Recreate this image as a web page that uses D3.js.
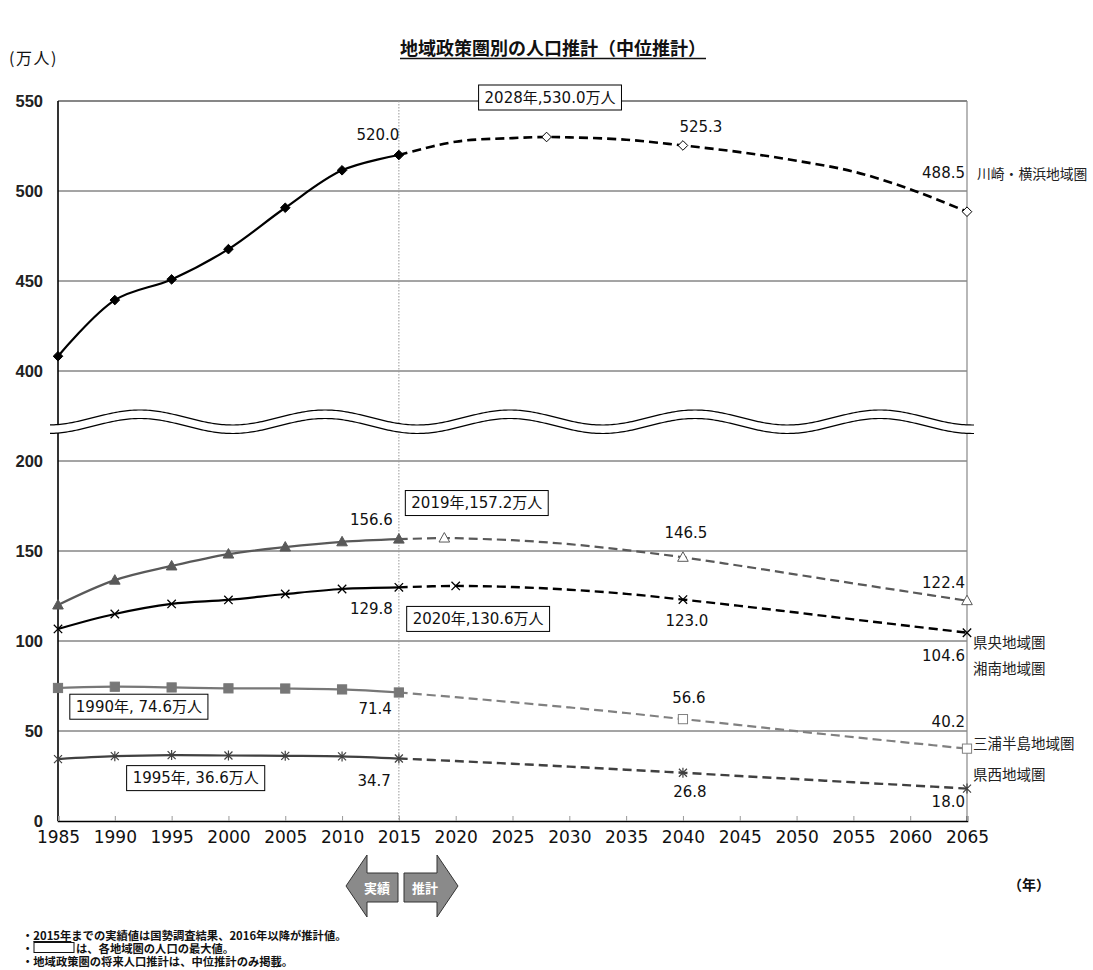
<!DOCTYPE html>
<html><head><meta charset="utf-8">
<script src="https://cdn.jsdelivr.net/npm/d3@7"></script>
<style>
body{margin:0;background:#fff;}
svg{display:block;}
</style></head><body>
<svg id="chart" width="1093" height="970"></svg>
<script>
// ---- data (万人) ----
const actualYears = [1985, 1990, 1995, 2000, 2005, 2010, 2015];
const kawasakiActual = [408.2, 439.4, 450.9, 467.7, 490.7, 511.5, 520.0];
const shonanActual   = [120.0, 133.8, 141.7, 148.3, 152.2, 155.1, 156.6];
const kenouActual    = [106.7, 115.0, 120.6, 122.8, 126.1, 128.9, 129.8];
const miuraActual    = [73.9, 74.6, 74.2, 73.7, 73.6, 73.1, 71.4];
const kenseiActual   = [34.4, 36.0, 36.6, 36.4, 36.2, 35.9, 34.7];

const kawasakiProjYears = [2015, 2020, 2025, 2028, 2030, 2035, 2040, 2045, 2050, 2055, 2060, 2065];
const kawasakiProj      = [520.0, 527.4, 529.4, 530.0, 529.8, 528.5, 525.3, 521.6, 516.8, 510.8, 501.0, 488.5];
const shonanProjYears   = [2015, 2019, 2020, 2025, 2030, 2035, 2040, 2045, 2050, 2055, 2060, 2065];
const shonanProj        = [156.6, 157.2, 157.1, 156.0, 153.8, 150.5, 146.5, 141.8, 136.9, 132.0, 127.2, 122.4];
const kenouProjYears    = [2015, 2020, 2025, 2030, 2035, 2040, 2045, 2050, 2055, 2060, 2065];
const kenouProj         = [129.8, 130.6, 130.0, 128.5, 126.2, 123.0, 119.5, 115.8, 112.0, 108.3, 104.6];
const miuraProjYears    = [2015, 2020, 2025, 2030, 2035, 2040, 2045, 2050, 2055, 2060, 2065];
const miuraProj         = [71.4, 68.8, 66.0, 63.1, 60.0, 56.6, 53.3, 49.9, 46.6, 43.4, 40.2];
const kenseiProjYears   = [2015, 2020, 2025, 2030, 2035, 2040, 2045, 2050, 2055, 2060, 2065];
const kenseiProj        = [34.7, 33.3, 31.8, 30.2, 28.5, 26.8, 25.0, 23.3, 21.5, 19.8, 18.0];

const seriesNames = ["川崎・横浜地域圏", "湘南地域圏", "県央地域圏", "三浦半島地域圏", "県西地域圏"];
const peakYears   = [2028, 2019, 2020, 1990, 1995];
const xTickYears  = d3.range(1985, 2066, 5);
const yTicksLow   = [0, 50, 100, 150, 200];
const yTicksHigh  = [400, 450, 500, 550];

const title = "地域政策圏別の人口推計（中位推計）";
const notes = ["2015年までの実績値は国勢調査結果、2016年以降が推計値。", "は、各地域圏の人口の最大値。", "地域政策圏の将来人口推計は、中位推計のみ掲載。"];

// ---- scales: broken value axis (0–200 below, 400–550 above) ----
const x = d3.scaleLinear().domain([1985, 2065]).range([58, 967]);
const yLow = d3.scaleLinear().domain([0, 200]).range([821, 461]);
const yHigh = d3.scaleLinear().domain([400, 550]).range([371, 101]);
const y = v => v >= 300 ? yHigh(v) : yLow(v);

const svg = d3.select("#chart");
const latin = "'DejaVu Sans', Verdana, sans-serif";
const jp = "'DejaVu Sans', 'Noto Sans CJK JP', sans-serif";
const jpOnly = "'Noto Sans CJK JP', sans-serif";

// gridlines
const grid = svg.append("g");
[50, 100, 150, 200].forEach(v => grid.append("line")
  .attr("x1", x(1985)).attr("x2", x(2065)).attr("y1", yLow(v)).attr("y2", yLow(v))
  .attr("stroke", "#4a4a4a").attr("stroke-width", 1));
[400, 450, 500].forEach(v => grid.append("line")
  .attr("x1", x(1985)).attr("x2", x(2065)).attr("y1", yHigh(v)).attr("y2", yHigh(v))
  .attr("stroke", "#4a4a4a").attr("stroke-width", 1));
// frame: top and right
grid.append("line").attr("x1", x(1985)).attr("x2", x(2065)).attr("y1", yHigh(550)).attr("y2", yHigh(550))
  .attr("stroke", "#111").attr("stroke-width", 1.2);
grid.append("line").attr("x1", x(2065)).attr("x2", x(2065)).attr("y1", yHigh(550)).attr("y2", yLow(0))
  .attr("stroke", "#888").attr("stroke-width", 1.2);
// actual / projected divider
grid.append("line").attr("x1", x(2015)).attr("x2", x(2015)).attr("y1", yHigh(550)).attr("y2", yLow(0))
  .attr("stroke", "#999").attr("stroke-width", 1).attr("stroke-dasharray", "1.5,1.5");

// axes
const axisFont = "'Liberation Sans', Arial, sans-serif";
const yAxisLow = svg.append("g").attr("transform", `translate(${x(1985)},0)`)
  .call(d3.axisLeft(yLow).tickValues(yTicksLow).tickSize(0).tickPadding(15));
const yAxisHigh = svg.append("g").attr("transform", `translate(${x(1985)},0)`)
  .call(d3.axisLeft(yHigh).tickValues(yTicksHigh).tickSize(0).tickPadding(15));
[yAxisLow, yAxisHigh].forEach(g => {
  g.select(".domain").remove();
  g.selectAll("text").attr("font-family", axisFont).attr("font-size", 16.5)
    .attr("font-weight", "bold").attr("fill", "#222");
});
svg.append("line").attr("x1", x(1985)).attr("x2", x(1985)).attr("y1", yHigh(550)).attr("y2", yLow(0))
  .attr("stroke", "#000").attr("stroke-width", 1.6);

const xAxis = svg.append("g").attr("transform", `translate(0,${yLow(0)})`)
  .call(d3.axisBottom(x).tickValues(xTickYears).tickFormat(d3.format("d")).tickSize(-5).tickPadding(10));
xAxis.select(".domain").attr("stroke", "#000").attr("stroke-width", 1.6);
xAxis.selectAll(".tick line").attr("stroke", "#999");
xAxis.selectAll("text").attr("font-family", latin).attr("font-size", 17).attr("fill", "#111");

// ---- axis break (double wave) ----
const wavePeriod = 185, wavePhase = 140, waveAmp = 7.5;
const waveTop = xx => 417.5 - waveAmp * Math.cos(2 * Math.PI * (xx - wavePhase) / wavePeriod);
const wx = d3.range(50, 976, 2);
const topPts = wx.map(xx => [xx, waveTop(xx)]);
const botPts = wx.map(xx => [xx, waveTop(xx) + 8.5]);
svg.append("path")
  .attr("d", d3.line()(topPts.concat(botPts.slice().reverse())) + "Z")
  .attr("fill", "#fff").attr("stroke", "none");
[topPts, botPts].forEach(p => svg.append("path").attr("d", d3.line()(p))
  .attr("fill", "none").attr("stroke", "#000").attr("stroke-width", 1.2));

// ---- series ----
const series = [
  { name: seriesNames[0], years: actualYears, vals: kawasakiActual, pYears: kawasakiProjYears, pVals: kawasakiProj,
    marks: [2028, 2040, 2065], color: "#000", pColor: "#000", shape: "diamond", width: 2.2, pWidth: 2.6 },
  { name: seriesNames[1], years: actualYears, vals: shonanActual, pYears: shonanProjYears, pVals: shonanProj,
    marks: [2019, 2040, 2065], color: "#595959", pColor: "#595959", shape: "triangle", width: 2.2, pWidth: 2.2 },
  { name: seriesNames[2], years: actualYears, vals: kenouActual, pYears: kenouProjYears, pVals: kenouProj,
    marks: [2020, 2040, 2065], color: "#000", pColor: "#000", shape: "x", width: 2.2, pWidth: 2.4 },
  { name: seriesNames[3], years: actualYears, vals: miuraActual, pYears: miuraProjYears, pVals: miuraProj,
    marks: [2040, 2065], color: "#777", pColor: "#808080", shape: "square", width: 2.2, pWidth: 2.2 },
  { name: seriesNames[4], years: actualYears, vals: kenseiActual, pYears: kenseiProjYears, pVals: kenseiProj,
    marks: [2040, 2065], color: "#404040", pColor: "#404040", shape: "star", width: 2.2, pWidth: 2.4 }
];

const line = d3.line().x(d => x(d[0])).y(d => y(d[1])).curve(d3.curveCatmullRom.alpha(0.5));

function marker(g, shape, cx, cy, color, hollow) {
  const fill = hollow ? "#fff" : color;
  const s = g.append("g").attr("transform", `translate(${cx},${cy})`);
  if (shape === "diamond") s.append("path").attr("d", "M0,-4.8L4.8,0L0,4.8L-4.8,0Z")
    .attr("fill", fill).attr("stroke", color).attr("stroke-width", 1);
  if (shape === "triangle") s.append("path").attr("d", "M0,-5.5L5.3,4L-5.3,4Z")
    .attr("fill", fill).attr("stroke", color).attr("stroke-width", 1);
  if (shape === "square") s.append("rect").attr("x", -4.6).attr("y", -4.6).attr("width", 9.2).attr("height", 9.2)
    .attr("fill", fill).attr("stroke", color).attr("stroke-width", 1);
  if (shape === "x") s.append("path").attr("d", "M-4.2,-4.2L4.2,4.2M-4.2,4.2L4.2,-4.2")
    .attr("stroke", color).attr("stroke-width", 1.3);
  if (shape === "star") s.append("path").attr("d", "M-4,-4L4,4M-4,4L4,-4M0,-5L0,5")
    .attr("stroke", color).attr("stroke-width", 1.2);
}

const marks = svg.append("g");
series.forEach(s => {
  const proj = s.pYears.map((yr, i) => [yr, s.pVals[i]]);
  marks.append("path").attr("d", line(proj)).attr("fill", "none")
    .attr("stroke", s.pColor).attr("stroke-width", s.pWidth).attr("stroke-dasharray", "9,5");
  const act = s.years.map((yr, i) => [yr, s.vals[i]]);
  marks.append("path").attr("d", line(act)).attr("fill", "none")
    .attr("stroke", s.color).attr("stroke-width", s.width);
  act.forEach(d => marker(marks, s.shape, x(d[0]), y(d[1]), s.color, false));
  proj.filter(d => s.marks.includes(d[0]))
    .forEach(d => marker(marks, s.shape, x(d[0]), y(d[1]), s.pColor, true));
});

// value lookup
const valueAt = (s, yr) => {
  const i = s.years.indexOf(yr);
  if (i >= 0) return s.vals[i];
  return s.pVals[s.pYears.indexOf(yr)];
};

// ---- value labels: [series index, year, anchor, dx, dy] ----
const valueLabels = [
  [0, 2015, "middle", -21, -20], [0, 2040, "middle", 18, -18], [0, 2065, "end", -2, -39],
  [1, 2015, "end", -6, -19], [1, 2040, "middle", 3, -24], [1, 2065, "end", -2, -18],
  [2, 2015, "end", -6, 22], [2, 2040, "middle", 4, 21], [2, 2065, "end", -2, 23],
  [3, 2015, "end", -7, 17], [3, 2040, "middle", 6, -21], [3, 2065, "end", -2, -27],
  [4, 2015, "end", -8, 22], [4, 2040, "middle", 7, 19], [4, 2065, "end", -2, 13.5]
];
const lbl = svg.append("g").attr("font-family", latin).attr("font-size", 15).attr("fill", "#111");
valueLabels.forEach(([si, yr, anchor, dx, dy]) => {
  const v = valueAt(series[si], yr);
  lbl.append("text").attr("x", x(yr) + dx).attr("y", y(v) + dy)
    .attr("text-anchor", anchor).attr("dominant-baseline", "central").text(v.toFixed(1));
});

// ---- peak boxes: [series index, left offset from point, centre-y offset, separator] ----
const peakBoxes = [
  [0, -68, -39.5, ","], [1, -39, -35, ","], [2, -49, 33, ","], [3, -45, 20, ", "], [4, -45, 23, ", "]
];
peakBoxes.forEach(([si, dx, dy, sep]) => {
  const s = series[si];
  const yr = peakYears[si];
  const v = valueAt(s, yr);
  const px = x(yr), py = y(v);
  const g = svg.append("g");
  const rect = g.append("rect").attr("fill", "#fff").attr("stroke", "#000").attr("stroke-width", 1);
  const t = g.append("text").attr("x", px + dx + 6).attr("y", py + dy)
    .attr("dominant-baseline", "central").attr("font-family", jp).attr("font-size", 15).attr("fill", "#111")
    .text(`${yr}年${sep}${v.toFixed(1)}万人`);
  const b = t.node().getBBox();
  rect.attr("x", b.x - 6).attr("y", py + dy - 12.5).attr("width", b.width + 12).attr("height", 25);
});

// ---- series names at the right ----
const nameLabels = [[0, 977, 173, 13.8], [2, 973, 641, 14.5], [1, 973, 667, 14.5], [3, 973, 742, 14.5], [4, 973, 773, 14.5]];
nameLabels.forEach(([si, lx, ly, fs]) => svg.append("text").attr("x", lx).attr("y", ly)
  .attr("dominant-baseline", "central").attr("font-family", jpOnly).attr("font-size", fs).attr("fill", "#222")
  .text(series[si].name));

// ---- title and units ----
const tt = svg.append("text").attr("x", 553).attr("y", 47).attr("text-anchor", "middle")
  .attr("dominant-baseline", "central").attr("font-family", jpOnly).attr("font-size", 18)
  .attr("font-weight", "bold").attr("fill", "#111").text(title);
const tb = tt.node().getBBox();
svg.append("line").attr("x1", tb.x).attr("x2", tb.x + tb.width).attr("y1", 58.5).attr("y2", 58.5)
  .attr("stroke", "#111").attr("stroke-width", 1.3);
svg.append("text").attr("x", 9).attr("y", 57).attr("dominant-baseline", "central")
  .attr("font-family", jpOnly).attr("font-size", 16).attr("letter-spacing", 1.5).attr("fill", "#111").text("(万人)");
svg.append("text").attr("x", 1008).attr("y", 884).attr("dominant-baseline", "central")
  .attr("font-family", jpOnly).attr("font-size", 14).attr("font-weight", "bold").attr("fill", "#111").text("（年）");

// ---- actual / projection arrows ----
const arrows = svg.append("g");
const ay = 886;
arrows.append("path")
  .attr("d", `M346,${ay}L367,${ay - 31}L367,${ay - 13}L398,${ay - 13}L398,${ay + 16}L367,${ay + 16}L367,${ay + 31}Z`)
  .attr("fill", "#8a8a8a").attr("stroke", "#333").attr("stroke-width", 1);
arrows.append("path")
  .attr("d", `M458,${ay}L437,${ay - 31}L437,${ay - 13}L404,${ay - 13}L404,${ay + 16}L437,${ay + 16}L437,${ay + 31}Z`)
  .attr("fill", "#8a8a8a").attr("stroke", "#333").attr("stroke-width", 1);
arrows.append("text").attr("x", 377).attr("y", ay + 1).attr("text-anchor", "middle").attr("dominant-baseline", "central")
  .attr("font-family", jpOnly).attr("font-size", 13).attr("font-weight", "bold").attr("fill", "#fff").text("実績");
arrows.append("text").attr("x", 425).attr("y", ay + 1).attr("text-anchor", "middle").attr("dominant-baseline", "central")
  .attr("font-family", jpOnly).attr("font-size", 13).attr("font-weight", "bold").attr("fill", "#fff").text("推計");

// ---- notes (one text block, three lines) ----
const noteY = [935, 948, 961];
const nf = svg.append("g");
nf.append("rect").attr("x", 34).attr("y", noteY[1] - 5.5).attr("width", 40).attr("height", 10)
  .attr("fill", "#fff").attr("stroke", "#111").attr("stroke-width", 1);
const nt = nf.append("text").attr("font-family", jpOnly).attr("font-size", 11.3)
  .attr("font-weight", "bold").attr("fill", "#111").attr("dominant-baseline", "central");
nt.append("tspan").attr("x", 22).attr("y", noteY[0]).text("・");
nt.append("tspan").attr("text-decoration", "underline").text(notes[0].slice(0, 5));
nt.append("tspan").text(notes[0].slice(5));
nt.append("tspan").attr("x", 22).attr("y", noteY[1]).text("・");
nt.append("tspan").attr("x", 76).attr("y", noteY[1]).text(notes[1]);
nt.append("tspan").attr("x", 22).attr("y", noteY[2]).text("・" + notes[2]);
</script>
</body></html>
